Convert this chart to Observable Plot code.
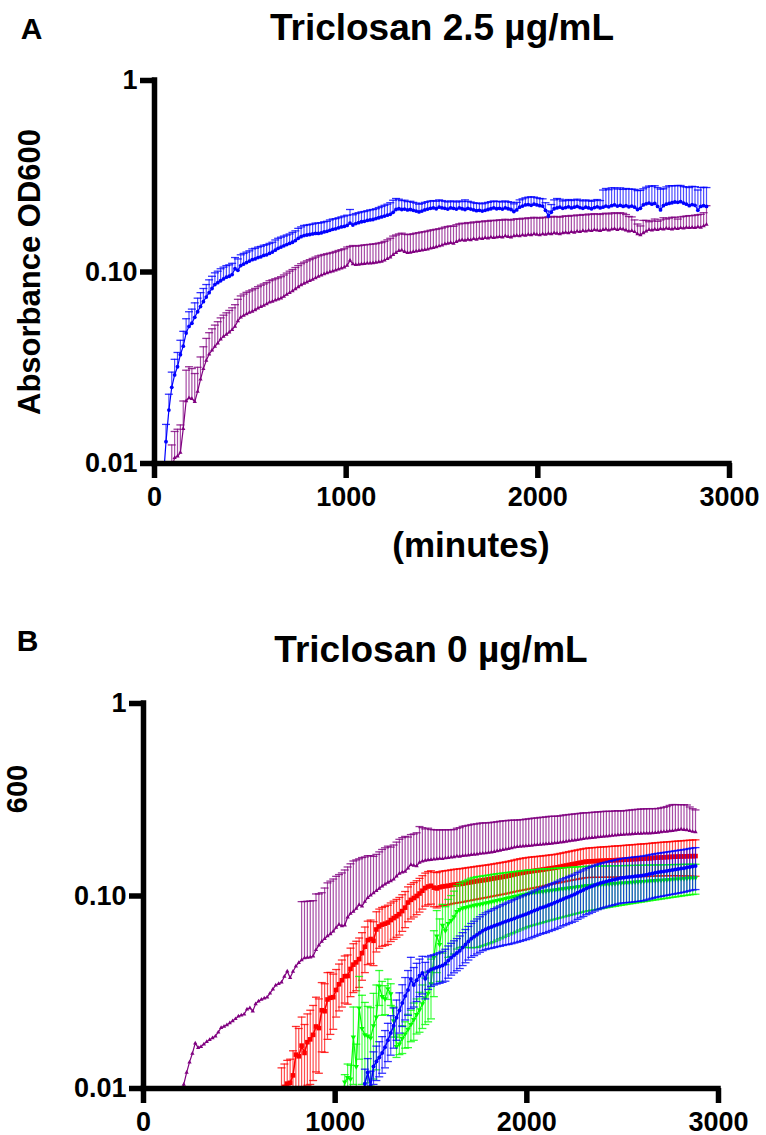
<!DOCTYPE html>
<html><head><meta charset="utf-8">
<script src="https://cdn.jsdelivr.net/npm/d3@7"></script>
<script src="https://cdn.jsdelivr.net/npm/@observablehq/plot@0.6"></script>
<style>
body{margin:0;background:#fff;}
#root{width:766px;}
svg{display:block;}
</style></head><body><div id="root"></div>
<script>
// sampling times (minutes)
const minutes = [0,15,30,45,60,75,90,105,120,135,150,165,180,195,210,225,240,255,270,285,300,315,330,345,360,375,390,405,420,435,450,465,480,495,510,525,540,555,570,585,600,615,630,645,660,675,690,705,720,735,750,765,780,795,810,825,840,855,870,885,900,915,930,945,960,975,990,1005,1020,1035,1050,1065,1080,1095,1110,1125,1140,1155,1170,1185,1200,1215,1230,1245,1260,1275,1290,1305,1320,1335,1350,1365,1380,1395,1410,1425,1440,1455,1470,1485,1500,1515,1530,1545,1560,1575,1590,1605,1620,1635,1650,1665,1680,1695,1710,1725,1740,1755,1770,1785,1800,1815,1830,1845,1860,1875,1890,1905,1920,1935,1950,1965,1980,1995,2010,2025,2040,2055,2070,2085,2100,2115,2130,2145,2160,2175,2190,2205,2220,2235,2250,2265,2280,2295,2310,2325,2340,2355,2370,2385,2400,2415,2430,2445,2460,2475,2490,2505,2520,2535,2550,2565,2580,2595,2610,2625,2640,2655,2670,2685,2700,2715,2730,2745,2760,2775,2790,2805,2820,2835,2850,2865,2880];

const xTicks = [0,1000,2000,3000];
const yTicks = [0.01,0.1,1];
const yTickLabels = ["0.01","0.10","1"];
const titleA = "Triclosan 2.5 µg/mL";
const titleB = "Triclosan 0 µg/mL";
const xLabelA = "(minutes)";
const yLabelA = "Absorbance OD600";
const yLabelB = "600";

// Panel A, blue (from 45 min)
const aBlueFrom = 45;
const aBlueMean = [.008,.013,.019,.025,.029,.032,.037,.041,.048,.052,
.054,.058,.062,.066,.070,.074,.078,.082,.086,.088,
.090,.092,.094,.095,.097,.104,.102,.108,.110,.112,
.114,.116,.117,.119,.120,.122,.123,.125,.127,.130,
.133,.135,.137,.139,.141,.143,.146,.150,.153,.155,
.156,.157,.158,.159,.159,.160,.162,.163,.165,.167,
.168,.170,.172,.173,.175,.180,.176,.179,.181,.183,
.184,.186,.187,.188,.190,.192,.194,.196,.198,.200,
.205,.212,.214,.212,.213,.211,.212,.210,.208,.206,
.208,.211,.213,.215,.216,.214,.218,.216,.215,.213,
.216,.215,.213,.216,.214,.212,.215,.213,.211,.209,
.210,.208,.210,.212,.214,.216,.214,.215,.213,.216,
.214,.212,.207,.211,.218,.221,.224,.225,.223,.226,
.224,.222,.221,.210,.196,.205,.214,.216,.218,.215,
.217,.219,.216,.218,.220,.217,.215,.218,.216,.214,
.217,.219,.216,.218,.221,.219,.222,.224,.221,.223,
.220,.222,.219,.221,.218,.212,.215,.224,.227,.229,
.226,.228,.220,.211,.222,.226,.228,.230,.232,.231,
.233,.229,.226,.222,.225,.223,.210,.220,.222,.220];
const aBlueErr = [.002,.003,.004,.005,.006,.006,.007,.008,.009,.010,
.010,.011,.011,.012,.012,.012,.013,.013,.013,.013,
.014,.014,.014,.014,.014,.015,.015,.015,.015,.015,
.015,.016,.016,.016,.016,.016,.016,.016,.016,.017,
.017,.017,.017,.017,.017,.018,.018,.019,.019,.020,
.020,.020,.020,.021,.021,.021,.021,.021,.022,.022,
.022,.022,.022,.023,.023,.032,.023,.023,.023,.023,
.023,.023,.024,.024,.024,.025,.026,.027,.028,.030,
.032,.030,.026,.024,.024,.022,.022,.021,.021,.020,
.020,.020,.020,.020,.020,.020,.020,.020,.019,.019,
.019,.019,.019,.019,.019,.026,.019,.019,.019,.019,
.019,.019,.019,.019,.019,.019,.019,.019,.019,.019,
.019,.019,.020,.020,.020,.020,.020,.021,.024,.020,
.020,.020,.020,.020,.012,.020,.024,.026,.022,.020,
.020,.020,.020,.020,.020,.020,.020,.020,.020,.020,
.020,.020,.020,.050,.052,.050,.053,.051,.050,.052,
.050,.051,.052,.050,.052,.054,.052,.048,.050,.052,
.055,.054,.056,.060,.050,.052,.054,.052,.050,.052,
.050,.050,.052,.054,.055,.056,.058,.056,.055,.056];

// Panel A, purple (from 90 min)
const aPurpleFrom = 90;
const aPurpleMean = [.0095,.0107,.0109,.0114,.0152,.0212,.0220,.0218,.0210,.0238,
.0275,.0312,.0345,.0372,.0390,.0408,.0425,.0446,.0460,.0472,
.0485,.0500,.0520,.0555,.0580,.0592,.0603,.0614,.0622,.0633,
.0646,.0658,.0668,.0680,.0695,.0702,.0712,.0720,.0730,.0745,
.0762,.0780,.0795,.0815,.0835,.0855,.0870,.0885,.0900,.0915,
.0930,.0948,.0962,.0975,.0988,.1000,.1010,.1022,.1035,.1046,
.1058,.1080,.1150,.1100,.1090,.1095,.1100,.1105,.1110,.1112,
.1115,.1120,.1128,.1135,.1150,.1172,.1195,.1230,.1260,.1290,
.1300,.1275,.1262,.1265,.1275,.1285,.1290,.1300,.1305,.1315,
.1330,.1340,.1352,.1365,.138,.140,.141,.142,.141,.144,
.146,.147,.146,.148,.147,.149,.148,.150,.149,.151,
.150,.152,.151,.152,.153,.152,.154,.153,.152,.154,
.155,.154,.156,.155,.157,.156,.158,.157,.156,.158,
.157,.159,.158,.160,.159,.158,.160,.161,.160,.162,
.161,.163,.162,.164,.163,.165,.164,.166,.165,.164,
.166,.167,.165,.167,.168,.166,.168,.167,.165,.163,
.164,.162,.158,.156,.160,.163,.166,.165,.167,.166,
.168,.167,.169,.168,.167,.169,.168,.170,.169,.171,
.170,.171,.170,.172,.171,.174,.177];
const aPurpleErr = [.0030,.0040,.0042,.0045,.0060,.0095,.0100,.0095,.0085,.0080,
.0085,.0095,.0105,.0110,.0115,.0120,.0125,.0130,.0135,.0140,
.0145,.0150,.0155,.0165,.0170,.0175,.0180,.0182,.0185,.0188,
.0192,.0195,.0198,.0200,.0205,.0208,.0210,.0212,.0215,.0220,
.0225,.0230,.0235,.0240,.0245,.0250,.0255,.0258,.0260,.0262,
.0265,.0265,.0262,.0260,.0258,.0255,.0255,.0258,.0260,.0262,
.0265,.0270,.0210,.0275,.0275,.0275,.0278,.0280,.0280,.0282,
.0285,.0285,.0288,.0290,.0295,.0300,.0305,.0310,.0300,.0290,
.0295,.0300,.0305,.0308,.0310,.0312,.0315,.0318,.0320,.0322,
.0322,.0322,.0320,.0318,.0316,.0316,.0318,.0320,.0322,.0325,
.0325,.0328,.0330,.0332,.0333,.0335,.0336,.0338,.0339,.0340,
.0340,.0341,.0342,.0342,.0343,.0344,.0345,.0345,.0346,.0346,
.0347,.0347,.0348,.0348,.0349,.0349,.0350,.0350,.0350,.0351,
.0351,.0352,.0352,.0352,.0353,.0353,.0353,.0354,.0354,.0355,
.0355,.0355,.0356,.0356,.0356,.0357,.0357,.0357,.0358,.0358,
.0358,.0358,.0359,.0359,.0359,.0360,.0360,.0355,.0345,.0320,
.0300,.0250,.0200,.0180,.0260,.0230,.0170,.0200,.0220,.0180,
.0190,.0250,.0200,.0230,.0260,.0240,.0210,.0240,.0260,.0250,
.0270,.0260,.0280,.0270,.0290,.0300,.0450];

// Panel B, purple (from 195 min)
const bPurpleFrom = 195;
const bPurpleMean = [.0080,.0105,.0121,.0137,.0152,.0172,.0163,.0165,.0170,.0175,
.0179,.0183,.0187,.0196,.0207,.0210,.0214,.0219,.0224,.0230,
.0237,.0240,.0243,.0258,.0262,.0252,.0275,.0284,.0290,.0294,
.0298,.0312,.0328,.0344,.0350,.0356,.0382,.0406,.0376,.0405,
.0432,.0450,.0465,.0476,.0479,.0481,.0486,.0525,.0555,.0580,
.0600,.0620,.0635,.0655,.0685,.0712,.0698,.0705,.0775,.0810,
.0830,.0860,.0900,.0884,.0935,.0980,.1010,.1036,.1065,.1095,
.1125,.1150,.1175,.1195,.1220,.1265,.1310,.1330,.1340,.1395,
.1455,.1440,.1430,.1495,.1515,.1530,.1540,.1545,.1550,.1555,
.1565,.1560,.1575,.1580,.1590,.1595,.1610,.1605,.1620,.1625,
.1630,.1640,.1645,.1650,.1660,.1665,.1670,.1680,.1690,.1700,
.1712,.1725,.1738,.1750,.1762,.1775,.1790,.1800,.1810,.1815,
.1820,.1825,.1830,.1840,.1845,.1850,.1855,.1865,.1870,.1875,
.1885,.1890,.1900,.1910,.1920,.1930,.1940,.1950,.1960,.1970,
.1985,.1995,.2000,.2010,.2015,.2025,.2030,.2040,.2045,.2050,
.2060,.2065,.2075,.2080,.2085,.2090,.2095,.2100,.2105,.2110,
.2110,.2115,.2120,.2120,.2125,.2130,.2140,.2150,.2160,.2165,
.2175,.2185,.2195,.2210,.2220,.2210,.2200,.2180,.2160,.2150];
const bPurpleErr = [0,0,0,0,0,0,0,0,0,0,
0,0,0,0,0,0,0,0,0,0,
0,0,0,0,0,0,0,0,0,0,
0,0,0,0,0,0,0,0,0,0,
0,0,.047,.046,.046,.046,.046,.050,.047,.046,
.050,.055,.056,.057,.058,.058,.062,.066,.064,.066,
.069,.068,.066,.070,.066,.064,.061,.057,.058,.060,
.062,.063,.064,.060,.062,.064,.066,.068,.070,.063,
.063,.066,.070,.080,.075,.070,.071,.067,.066,.065,
.064,.065,.063,.063,.062,.062,.064,.066,.068,.069,
.070,.071,.072,.072,.073,.073,.073,.072,.072,.072,
.072,.072,.072,.071,.071,.070,.069,.068,.068,.068,
.069,.069,.070,.070,.070,.071,.071,.071,.072,.072,
.071,.071,.071,.072,.072,.072,.072,.072,.072,.072,
.072,.071,.071,.071,.071,.071,.071,.071,.071,.070,
.070,.070,.070,.068,.069,.069,.070,.070,.071,.071,
.072,.072,.072,.072,.072,.071,.071,.072,.073,.075,
.078,.080,.079,.077,.076,.077,.077,.072,.068,.065];

// Panel B, red (from 720 min)
const bRedFrom = 720;
const bRedMean = [.0098,.0102,.0106,.0107,.0117,.0150,.0147,.0167,.0153,.0174,
.0180,.0190,.0210,.0206,.0255,.0252,.0290,.0296,.0298,.0325,
.0348,.0365,.0383,.0384,.0418,.0440,.0452,.0470,.0505,.0545,
.0590,.0598,.0585,.0670,.0695,.0710,.0718,.0728,.0750,.0768,
.0785,.0805,.0835,.0870,.0925,.0955,.0976,.1000,.1030,.1065,
.1100,.1120,.1130,.1105,.1095,.1110,.1120,.1125,.1130,.1138,
.1145,.1150,.1155,.1160,.1168,.1175,.1180,.1188,.1195,.1200,
.1208,.1213,.1220,.1228,.1235,.1243,.1250,.1258,.1265,.1275,
.1285,.1295,.1305,.1315,.1322,.1330,.1338,.1345,.1352,.1358,
.1365,.1372,.1380,.1388,.1395,.1402,.1410,.1420,.1430,.1440,
.1450,.1460,.1470,.1480,.1490,.1500,.1508,.1512,.1515,.1518,
.1520,.1523,.1525,.1528,.1530,.1533,.1535,.1538,.1540,.1543,
.1546,.1549,.1552,.1555,.1558,.1561,.1564,.1567,.1570,.1575,
.1580,.1583,.1586,.1589,.1592,.1595,.1598,.1600,.1602,.1604,
.1606,.1608,.1610,.1610,.1612];
const bRedErr = [.0030,.0032,.0034,.0035,.0040,.0060,.0058,.0068,.0062,.0070,
.0075,.0080,.0088,.0086,.0100,.0098,.0110,.0105,.0095,.0090,
.0095,.0100,.0105,.0110,.0118,.0125,.0130,.0135,.0140,.0145,
.0150,.0152,.0150,.0158,.0160,.0162,.0165,.0168,.0170,.0172,
.0175,.0178,.0180,.0185,.0190,.0195,.0198,.0200,.0205,.0210,
.0215,.0220,.0222,.0225,.0228,.0228,.0228,.0228,.0229,.0229,
.0230,.0230,.0230,.0231,.0231,.0231,.0232,.0232,.0232,.0233,
.0233,.0233,.0234,.0234,.0235,.0236,.0237,.0238,.0239,.0240,
.0242,.0244,.0246,.0248,.0250,.0250,.0250,.0249,.0248,.0247,
.0246,.0245,.0244,.0243,.0242,.0242,.0243,.0245,.0247,.0249,
.0251,.0253,.0255,.0257,.0259,.0260,.0262,.0264,.0266,.0268,
.0270,.0272,.0274,.0276,.0278,.0280,.0282,.0284,.0286,.0288,
.0290,.0292,.0294,.0296,.0298,.0300,.0302,.0304,.0306,.0308,
.0310,.0312,.0314,.0316,.0318,.0320,.0322,.0325,.0328,.0331,
.0334,.0337,.0340,.0343,.0346];

// Panel B, green (from 1035 min)
const bGreenFrom = 1035;
const bGreenMean = [.0085,.0108,.0114,.0112,.0185,.0130,.0262,.0205,.0190,.0187,
.0183,.0212,.0235,.0340,.0300,.0292,.0330,.0310,.0225,.0165,
.0170,.0182,.0192,.0203,.0215,.0228,.0242,.0256,.0275,.0295,
.0312,.0350,.0480,.0620,.0560,.0705,.0660,.0720,.0745,.0780,
.0830,.0850,.0865,.0870,.0880,.0888,.0895,.0900,.0905,.0912,
.0918,.0925,.0932,.0940,.0948,.0955,.0962,.0970,.0978,.0985,
.0992,.1000,.1008,.1015,.1022,.1030,.1035,.1040,.1045,.1050,
.1055,.1060,.1065,.1070,.1075,.1080,.1085,.1090,.1095,.1100,
.1105,.1110,.1115,.1120,.1125,.1130,.1133,.1136,.1139,.1142,
.1145,.1148,.1151,.1154,.1157,.1160,.1163,.1166,.1169,.1172,
.1175,.1178,.1181,.1184,.1187,.1190,.1193,.1196,.1199,.1202,
.1205,.1208,.1211,.1214,.1217,.1220,.1223,.1226,.1229,.1232,
.1235,.1238,.1240,.1242];
const bGreenErr = [.0000,.0010,.0020,.0020,.0080,.0040,.0120,.0100,.0090,.0080,
.0080,.0100,.0110,.0070,.0060,.0050,.0040,.0040,.0040,.0020,
.0020,.0030,.0030,.0040,.0040,.0050,.0050,.0060,.0070,.0080,
.0090,.0120,.0180,.0220,.0200,.0200,.0220,.0240,.0260,.0280,
.0300,.0310,.0320,.0330,.0340,.0350,.0355,.0360,.0360,.0360,
.0360,.0360,.0360,.0360,.0358,.0356,.0354,.0352,.0350,.0348,
.0346,.0344,.0342,.0340,.0338,.0336,.0334,.0332,.0330,.0328,
.0326,.0324,.0322,.0320,.0318,.0316,.0314,.0312,.0310,.0308,
.0306,.0304,.0302,.0300,.0298,.0296,.0294,.0292,.0290,.0288,
.0286,.0284,.0282,.0280,.0278,.0276,.0274,.0272,.0270,.0268,
.0266,.0264,.0262,.0260,.0258,.0256,.0254,.0252,.0250,.0248,
.0246,.0244,.0242,.0240,.0238,.0236,.0234,.0232,.0230,.0228,
.0226,.0224,.0222,.0220];

// Panel B, blue (from 1140 min)
const bBlueFrom = 1140;
const bBlueMean = [.0085,.0106,.0121,.0103,.0130,.0138,.0145,.0153,.0164,.0178,
.0194,.0212,.0233,.0254,.0278,.0302,.0325,.0370,.0345,.0365,
.0385,.0398,.0372,.0405,.0415,.0420,.0425,.0430,.0436,.0445,
.0462,.0478,.0492,.0505,.0520,.0540,.0560,.0580,.0600,.0615,
.0630,.0645,.0660,.0672,.0682,.0690,.0700,.0710,.0718,.0728,
.0738,.0745,.0755,.0765,.0775,.0785,.0795,.0805,.0815,.0828,
.0840,.0852,.0865,.0875,.0885,.0898,.0910,.0922,.0935,.0950,
.0965,.0978,.0992,.1005,.1020,.1040,.1058,.1075,.1095,.1110,
.1125,.1140,.1155,.1168,.1180,.1190,.1200,.1210,.1220,.1230,
.1240,.1245,.1250,.1255,.1260,.1265,.1270,.1275,.1280,.1290,
.1300,.1310,.1320,.1328,.1335,.1342,.1350,.1358,.1365,.1372,
.1380,.1388,.1395,.1405,.1415,.1425,.1432];
const bBlueErr = [.0015,.0020,.0022,.0020,.0025,.0028,.0030,.0033,.0036,.0040,
.0045,.0050,.0055,.0060,.0068,.0075,.0085,.0110,.0080,.0082,
.0085,.0088,.0080,.0078,.0076,.0075,.0076,.0078,.0080,.0084,
.0088,.0090,.0093,.0096,.0100,.0105,.0110,.0115,.0120,.0125,
.0130,.0135,.0140,.0145,.0150,.0155,.0160,.0165,.0170,.0175,
.0180,.0185,.0190,.0195,.0200,.0204,.0208,.0212,.0216,.0220,
.0224,.0228,.0232,.0236,.0240,.0244,.0248,.0252,.0256,.0260,
.0264,.0268,.0272,.0276,.0280,.0284,.0288,.0292,.0296,.0300,
.0302,.0304,.0306,.0308,.0310,.0312,.0314,.0316,.0318,.0320,
.0322,.0324,.0326,.0328,.0330,.0331,.0332,.0333,.0334,.0335,
.0336,.0337,.0338,.0339,.0340,.0341,.0342,.0343,.0344,.0345,
.0346,.0347,.0348,.0349,.0350,.0351,.0352];

const BLUE = "#0000ff", PURPLE = "#800080", RED = "#ff0000", GREEN = "#00ff00";
const FONT = "'Liberation Sans', Arial, Helvetica, sans-serif";

function rows(from, vals, errs) {
  const i0 = minutes.indexOf(from);
  return vals.map((v, i) => ({t: minutes[i0 + i], v, sd: errs[i]}));
}

const capSymbol = {
  draw(ctx, size) { const r = Math.sqrt(size / Math.PI); ctx.moveTo(-r, 0); ctx.lineTo(r, 0); }
};

function seriesMarks(data, color, o) {
  const bars = data.filter(d => d.sd > 0);
  const m = [
    Plot.ruleX(bars, {x: "t", y1: "v", y2: d => d.v + d.sd, stroke: color, strokeWidth: 1.2, strokeOpacity: 0.7, clip: true}),
    Plot.dot(bars, {x: "t", y: d => d.v + d.sd, symbol: capSymbol, r: 4, stroke: color, strokeWidth: 1.3, strokeOpacity: 0.8, fill: "none", clip: true})
  ];
  if (o.both) {
    const low = bars.filter(d => d.v - d.sd > 0);
    m.push(
      Plot.ruleX(bars, {x: "t", y1: "v", y2: d => Math.max(d.v - d.sd, 1e-4), stroke: color, strokeWidth: 1.2, strokeOpacity: 0.7, clip: true}),
      Plot.dot(low, {x: "t", y: d => d.v - d.sd, symbol: capSymbol, r: 4, stroke: color, strokeWidth: 1.3, strokeOpacity: 0.8, fill: "none", clip: true})
    );
  }
  m.push(
    Plot.line(data, {x: "t", y: "v", stroke: color, strokeWidth: o.lw || 1.2, clip: true}),
    Plot.dot(data, {x: "t", y: "v", symbol: o.symbol, r: o.r, fill: color, stroke: "none", rotate: o.rotate || 0, clip: true})
  );
  return m;
}

function axisMarks() {
  return [
    Plot.ruleY([0.01], {stroke: "#000", strokeWidth: 5.5, strokeLinecap: "square"}),
    Plot.ruleX([0], {stroke: "#000", strokeWidth: 5.5, strokeLinecap: "square"}),
    Plot.axisY({ticks: yTicks, tickFormat: d => yTickLabels[yTicks.indexOf(d)], tickSize: 14, tickPadding: 3,
      strokeWidth: 5.5, fontSize: 27, fontWeight: "bold", label: null}),
    Plot.axisX({ticks: xTicks, tickFormat: d => String(d), tickSize: 15, tickPadding: 8,
      strokeWidth: 5.5, fontSize: 27, fontWeight: "bold", label: null})
  ];
}

const textStyle = {fontWeight: "bold", fill: "#000", text: d => d};

const plotA = Plot.plot({
  width: 766, height: 600,
  marginTop: 80, marginLeft: 154, marginRight: 37, marginBottom: 137,
  style: {fontFamily: FONT, background: "#fff", overflow: "visible"},
  x: {type: "linear", domain: [0, 3000], axis: null},
  y: {type: "log", domain: [0.01, 1], axis: null},
  marks: [
    ...seriesMarks(rows(aPurpleFrom, aPurpleMean, aPurpleErr), PURPLE, {symbol: "triangle", r: 1.6}),
    ...seriesMarks(rows(aBlueFrom, aBlueMean, aBlueErr), BLUE, {symbol: "circle", r: 1.9}),
    ...axisMarks(),
    Plot.text([titleA], {...textStyle, frameAnchor: "top", dy: -52, fontSize: 37, lineAnchor: "middle"}),
    Plot.text(["A"], {...textStyle, frameAnchor: "top-left", dx: -123, dy: -51, fontSize: 30, lineAnchor: "middle", textAnchor: "middle"}),
    Plot.text([xLabelA], {...textStyle, frameAnchor: "bottom", dx: 29, dy: 82, fontSize: 35, lineAnchor: "middle"}),
    Plot.text([yLabelA], {...textStyle, frameAnchor: "left", dx: -124, rotate: -90, fontSize: 31, lineAnchor: "middle", textAnchor: "middle"})
  ]
});

const plotB = Plot.plot({
  width: 766, height: 535,
  marginTop: 103, marginLeft: 143, marginRight: 48, marginBottom: 47,
  style: {fontFamily: FONT, background: "#fff", overflow: "visible"},
  x: {type: "linear", domain: [0, 3000], axis: null},
  y: {type: "log", domain: [0.01, 1], axis: null},
  marks: [
    ...seriesMarks(rows(bPurpleFrom, bPurpleMean, bPurpleErr), PURPLE, {symbol: "triangle", r: 1.6}),
    ...seriesMarks(rows(bRedFrom, bRedMean, bRedErr), RED, {symbol: "square", r: 2.6, both: true, lw: 1.6}),
    ...seriesMarks(rows(bGreenFrom, bGreenMean, bGreenErr), GREEN, {symbol: "triangle", r: 2, rotate: 180, both: true}),
    ...seriesMarks(rows(bBlueFrom, bBlueMean, bBlueErr), BLUE, {symbol: "circle", r: 2, both: true, lw: 1.5}),
    ...axisMarks(),
    Plot.text([titleB], {...textStyle, frameAnchor: "top", dy: -53, fontSize: 37, lineAnchor: "middle"}),
    Plot.text(["B"], {...textStyle, frameAnchor: "top-left", dx: -116, dy: -62, fontSize: 30, lineAnchor: "middle", textAnchor: "middle"}),
    Plot.text([yLabelB], {...textStyle, frameAnchor: "left", dx: -126, dy: -107, rotate: -90, fontSize: 29, lineAnchor: "middle", textAnchor: "middle"})
  ]
});

const root = document.getElementById("root");
root.appendChild(plotA);
root.appendChild(plotB);
</script></body></html>
